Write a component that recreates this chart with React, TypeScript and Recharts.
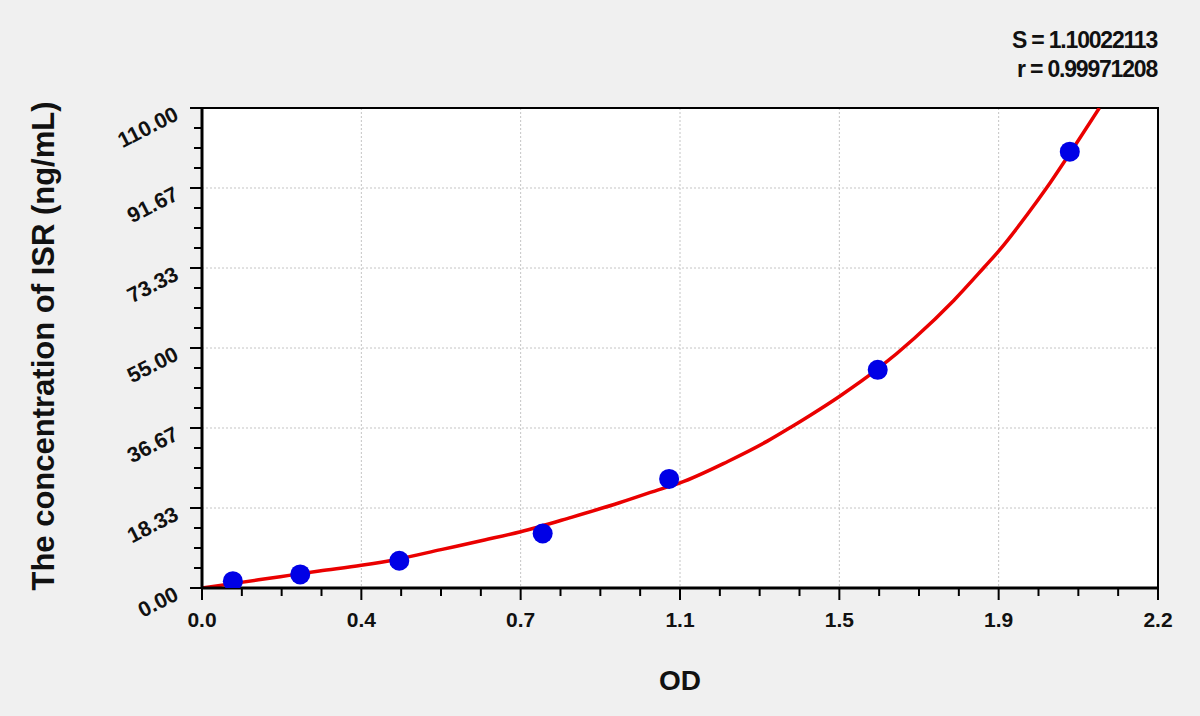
import {
  ComposedChart,
  Line,
  Scatter,
  XAxis,
  YAxis,
  CartesianGrid,
  ReferenceArea,
} from "recharts";

// standard points (OD vs concentration)
const odValues = [0.071, 0.226, 0.454, 0.784, 1.075, 1.555, 1.997];
const concValues = [1.56, 3.12, 6.25, 12.5, 25, 50, 100];

// fitted curve
const fitOD = [
  0, 0.07, 0.18, 0.27, 0.3667, 0.45, 0.55, 0.65, 0.7333, 0.85, 0.95, 1.05, 1.1,
  1.21, 1.3, 1.356, 1.4, 1.4667, 1.555, 1.64, 1.73, 1.8, 1.8333, 1.9, 1.943,
  1.997, 2.065,
];
const fitConc = [
  0, 1.0, 2.6, 3.9, 5.2, 6.6, 8.8, 11.0, 12.9, 16.2, 19.2, 22.5, 24.1, 29.0,
  33.6, 36.9, 39.6, 43.9, 50.2, 57.3, 65.9, 73.5, 77.2, 85.7, 91.6, 99.6, 110,
];

const xMajorTicks = [0, 0.3667, 0.7333, 1.1, 1.4667, 1.8333, 2.2];
const xTickLabels = ["0.0", "0.4", "0.7", "1.1", "1.5", "1.9", "2.2"];
const xMinorTicks = [
  0.0917, 0.1833, 0.275, 0.4583, 0.55, 0.6417, 0.825, 0.9167, 1.0083, 1.1917,
  1.2833, 1.375, 1.5583, 1.65, 1.7417, 1.925, 2.0167, 2.1083,
];
const yMajorTicks = [0, 18.33, 36.67, 55, 73.33, 91.67, 110];
const yTickLabels = ["0.00", "18.33", "36.67", "55.00", "73.33", "91.67", "110.00"];
const yMinorTicks = [
  4.58, 9.17, 13.75, 22.92, 27.5, 32.08, 41.25, 45.83, 50.42, 59.58, 64.17,
  68.75, 77.92, 82.5, 87.08, 96.25, 100.83, 105.42,
];

const statLines = ["S = 1.10022113", "r = 0.99971208"];
const xTitle = "OD";
const yTitle = "The concentration of ISR (ng/mL)";

const points = odValues.map((x, i) => ({ x, y: concValues[i] }));
const curve = fitOD.map((x, i) => ({ x, y: fitConc[i] }));
const allX = [...xMajorTicks, ...xMinorTicks].sort((a, b) => a - b);
const allY = [...yMajorTicks, ...yMinorTicks].sort((a, b) => a - b);

const font = "'Liberation Sans', Arial, sans-serif";

const findMajor = (list: number[], v: number) =>
  list.findIndex((m) => Math.abs(m - v) < 1e-6);

function XTick(props: any) {
  const { x, y, payload } = props;
  const i = findMajor(xMajorTicks, payload.value);
  return (
    <g>
      <line x1={x} x2={x} y1={y} y2={y + (i >= 0 ? 12 : 8)} stroke="#000" strokeWidth={2} />
      {i >= 0 && (
        <text x={x} y={y + 39} textAnchor="middle" fontSize={21} fontWeight="bold" fontFamily={font} fill="#111">
          {xTickLabels[i]}
        </text>
      )}
    </g>
  );
}

function YTick(props: any) {
  const { x, y, payload } = props;
  const i = findMajor(yMajorTicks, payload.value);
  const tx = x - 22;
  const ty = y + 11;
  return (
    <g>
      <line x1={x} x2={x - (i >= 0 ? 12 : 8)} y1={y} y2={y} stroke="#000" strokeWidth={2} />
      {i >= 0 && (
        <text
          x={tx}
          y={ty}
          transform={`rotate(-27 ${tx} ${ty})`}
          textAnchor="end"
          fontSize={21.5}
          fontWeight="bold"
          fontFamily={font}
          fill="#111"
        >
          {yTickLabels[i]}
        </text>
      )}
    </g>
  );
}

export default function App() {
  return (
    <div style={{ position: "relative", width: 1200, height: 716, background: "#f0f0f0" }}>
      <style>{"body{margin:0}"}</style>
      <ComposedChart
        width={1200}
        height={716}
        margin={{ top: 108, right: 42, bottom: 68, left: 102 }}
      >
        <CartesianGrid
          fill="#fff"
          stroke="#c4c4c4"
          strokeDasharray="2 2"
          horizontalValues={yMajorTicks}
          verticalValues={xMajorTicks}
        />
        <XAxis
          dataKey="x"
          type="number"
          domain={[0, 2.2]}
          ticks={allX}
          interval={0}
          tick={<XTick />}
          tickLine={false}
          tickSize={0}
          tickMargin={0}
          height={60}
          axisLine={{ stroke: "#000", strokeWidth: 3 }}
          allowDataOverflow
        />
        <YAxis
          dataKey="y"
          type="number"
          domain={[0, 110]}
          ticks={allY}
          interval={0}
          tick={<YTick />}
          tickLine={false}
          tickSize={0}
          tickMargin={0}
          width={100}
          axisLine={{ stroke: "#000", strokeWidth: 3 }}
          allowDataOverflow
        />
        <ReferenceArea x1={0} x2={2.2} y1={0} y2={110} fill="none" stroke="#000" strokeWidth={2} />
        <Scatter
          data={points}
          fill="#0000e6"
          isAnimationActive={false}
          shape={(p: any) => <circle cx={p.cx} cy={p.cy} r={10} fill="#0000e6" />}
        />
        <Line
          data={curve}
          dataKey="y"
          type="monotone"
          dot={false}
          stroke="#ea0000"
          strokeWidth={3.5}
          isAnimationActive={false}
        />
      </ComposedChart>
      <svg
        width={1200}
        height={716}
        style={{ position: "absolute", left: 0, top: 0, pointerEvents: "none" }}
      >
        {statLines.map((s, i) => (
          <text
            key={s}
            x={1157}
            y={48 + i * 29}
            textAnchor="end"
            fontSize={23}
            fontWeight="bold"
            letterSpacing={-1.2}
            fontFamily={font}
            fill="#111"
          >
            {s}
          </text>
        ))}
        <text x={680} y={690} textAnchor="middle" fontSize={28} fontWeight="bold" fontFamily={font} fill="#111">
          {xTitle}
        </text>
        <text
          x={54}
          y={346}
          transform="rotate(-90 54 346)"
          textAnchor="middle"
          fontSize={31}
          fontWeight="bold"
          fontFamily={font}
          fill="#111"
        >
          {yTitle}
        </text>
      </svg>
    </div>
  );
}
